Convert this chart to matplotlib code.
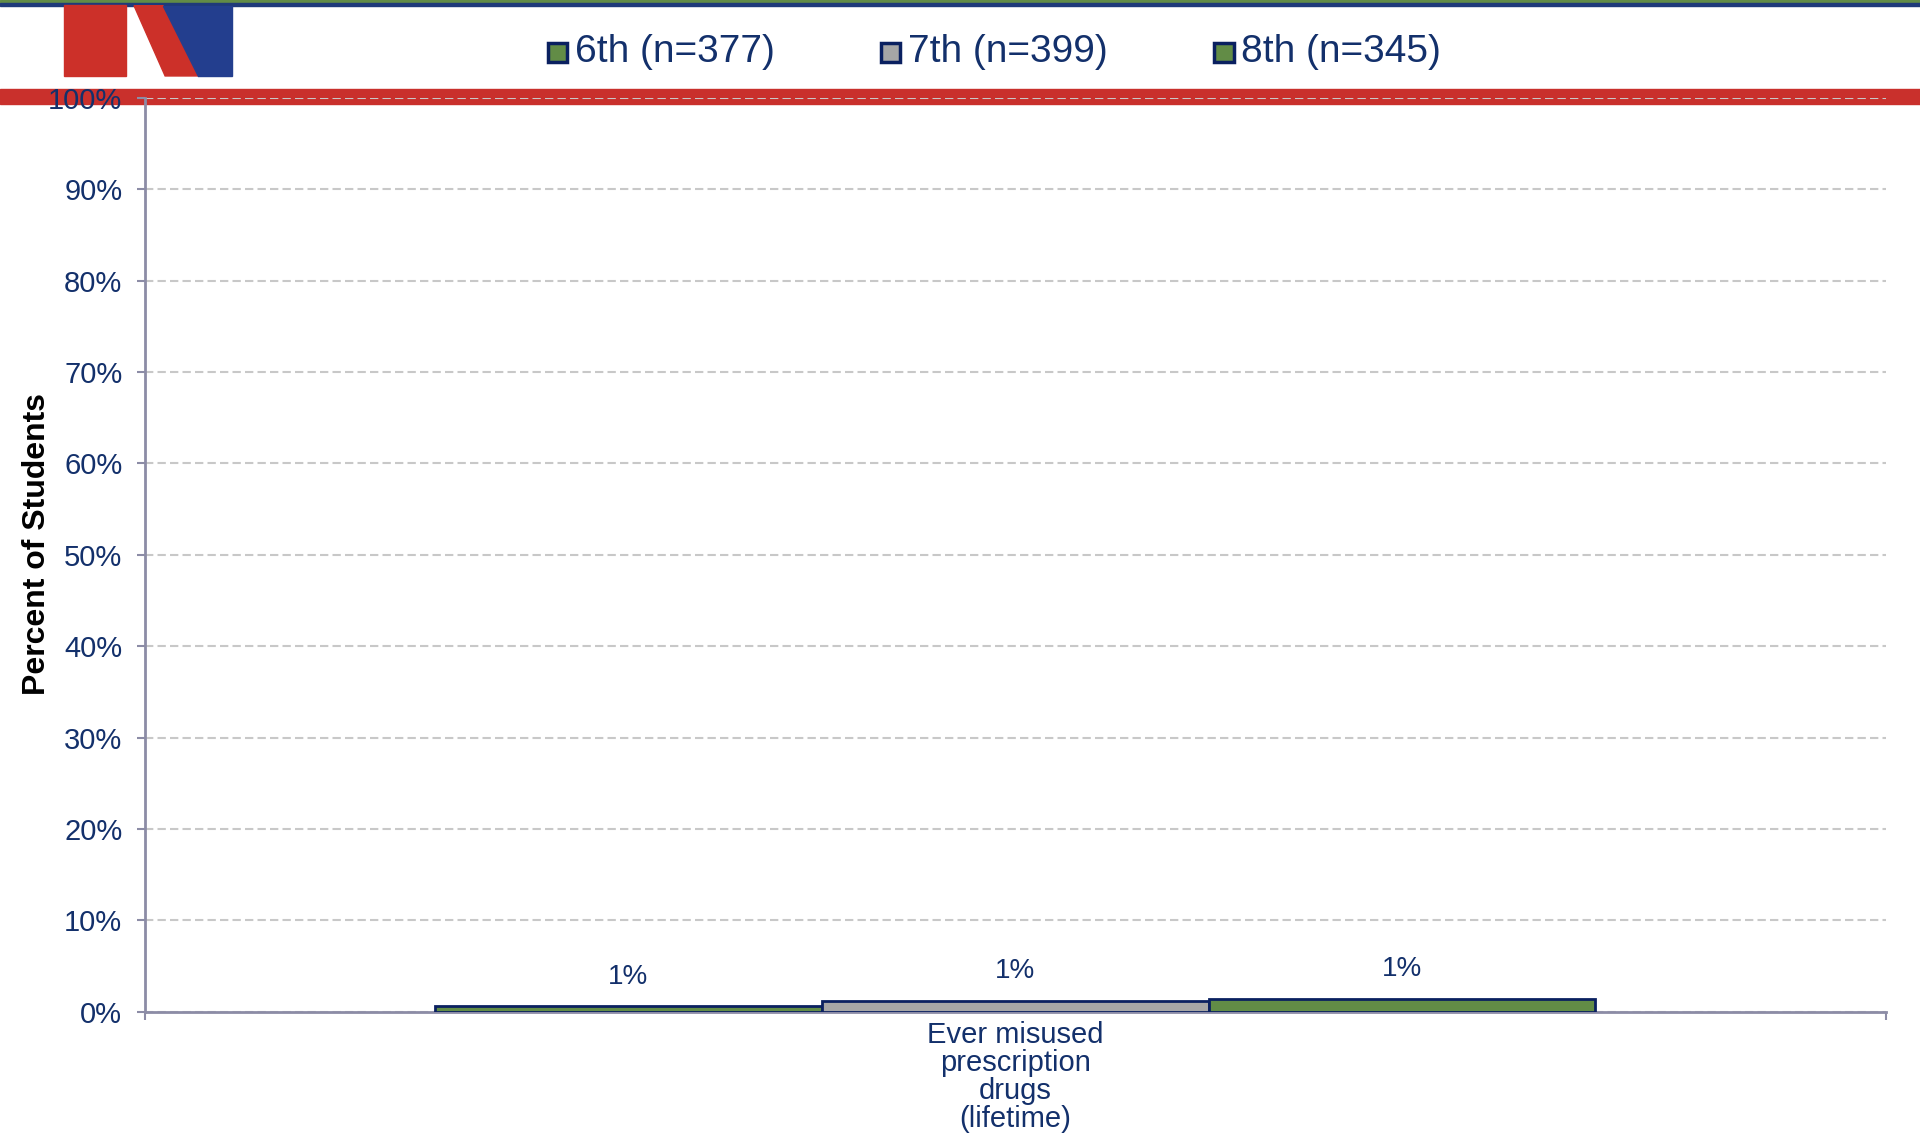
import matplotlib.pyplot as plt
from matplotlib.patches import Rectangle, Polygon
from matplotlib.ticker import FuncFormatter

# Datos
categoria = "Ever misused\nprescription\ndrugs\n(lifetime)"
grados = ["6th (n=377)", "7th (n=399)", "8th (n=345)"]
valores = [0.6, 1.2, 1.4]
etiquetas = ["1%", "1%", "1%"]
colores = ["#628c46", "#a6a6a6", "#628c46"]

navy = "#13306b"
plt.rcParams['font.family'] = ['Liberation Sans', 'DejaVu Sans']

fig = plt.figure(figsize=(19.2, 11.39), dpi=100)

# franja roja y bordes superiores
fig.patches.append(Rectangle((0, 0.9086), 1, 0.0129, transform=fig.transFigure,
                             color="#c9302c", zorder=-5))
fig.patches.append(Rectangle((0, 0.9975), 1, 0.0025, transform=fig.transFigure,
                             color="#628c46", zorder=-5))
fig.patches.append(Rectangle((0, 0.995), 1, 0.0025, transform=fig.transFigure,
                             color="#1f3a7a", zorder=-5))

# logo
fig.patches.append(Rectangle((0.0332, 0.9333), 0.0325, 0.062, transform=fig.transFigure,
                             color="#cc3029", zorder=1))
fig.patches.append(Polygon([(0.0698, 0.995), (0.0849, 0.995), (0.1031, 0.9333), (0.0860, 0.9333)],
                           closed=True, transform=fig.transFigure, color="#cc3029", zorder=1))
fig.patches.append(Polygon([(0.0849, 0.995), (0.1206, 0.995), (0.1206, 0.9333), (0.1031, 0.9333)],
                           closed=True, transform=fig.transFigure, color="#233e8e", zorder=1))

ax = fig.add_axes([0.0753, 0.1118, 0.9068, 0.8022])
ax.patch.set_alpha(0)

ancho = 0.2222
posiciones = [-ancho, 0, ancho]
barras = ax.bar(posiciones, valores, width=ancho, color=colores,
                edgecolor="#0a2060", linewidth=2, zorder=3, label=grados)

for x, v, t in zip(posiciones, valores, etiquetas):
    ax.text(x, v + 1.8, t, ha="center", va="bottom", fontsize=20, color=navy)

ax.set_xlim(-0.5, 0.5)
ax.set_ylim(0, 100)
ax.set_yticks(range(0, 101, 10))
ax.yaxis.set_major_formatter(FuncFormatter(lambda v, p: f"{v:.0f}%"))
ax.tick_params(axis="y", labelsize=21, labelcolor=navy, color="#8c8ca6",
               length=6, width=1.5, pad=10)
ax.set_xticks([0])
ax.set_xticklabels([categoria], fontsize=21, color=navy, linespacing=1.0)
ax.tick_params(axis="x", length=0, pad=7)
ax.set_xticks([-0.5, 0.5], minor=True)
ax.tick_params(axis="x", which="minor", length=6, width=1.5, color="#8c8ca6")

ax.grid(axis="y", linestyle=(0, (4, 2)), color="#c8c8c8", linewidth=1.5, zorder=0)
for lado in ["top", "right"]:
    ax.spines[lado].set_visible(False)
for lado in ["left", "bottom"]:
    ax.spines[lado].set_color("#8c8ca6")
    ax.spines[lado].set_linewidth(2)

ax.set_ylabel("Percent of Students", fontsize=23, fontweight="bold", color="black")
ax.yaxis.set_label_coords(-0.053, 0.512)

# leyenda
xs = [0.285, 0.4585, 0.632]
for x, g, c in zip(xs, grados, colores):
    fig.patches.append(Rectangle((x + 0.0005, 0.9455), 0.010, 0.017, transform=fig.transFigure,
                                 facecolor=c, edgecolor="#0a2060", linewidth=2.5, zorder=2))
    fig.text(x + 0.0145, 0.9545, g, fontsize=28, color=navy, va="center", ha="left")

fig.savefig("out.png", dpi=100)
